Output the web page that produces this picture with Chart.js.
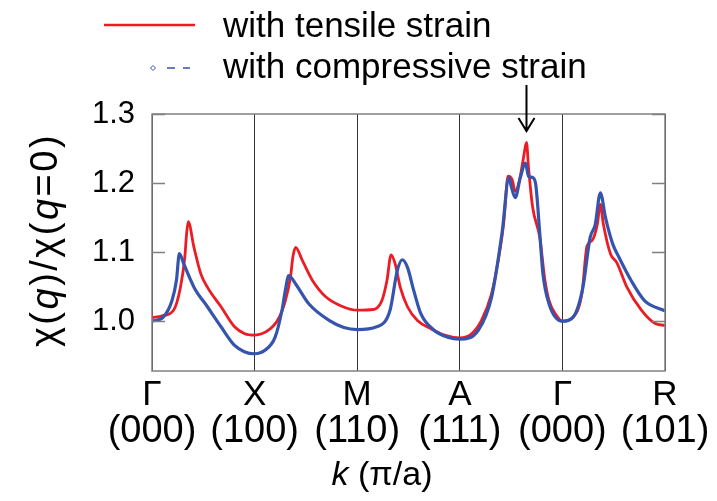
<!DOCTYPE html>
<html>
<head>
<meta charset="utf-8">
<script src="https://cdn.jsdelivr.net/npm/chart.js@4.4.0/dist/chart.umd.min.js"></script>
<style>
  html, body { margin: 0; padding: 0; background: #fff; }
  #wrap { width: 717px; height: 501px; position: relative; }
</style>
</head>
<body>
<div id="wrap"><canvas id="chart" width="717" height="501"></canvas></div>
<script>
// high-symmetry points along the path
const pointNames = ['Γ', 'X', 'M', 'A', 'Γ', 'R'];
const pointIndices = ['(000)', '(100)', '(110)', '(111)', '(000)', '(101)'];
const yTicks = [1.0, 1.1, 1.2, 1.3];

// chi(q)/chi(0), tensile strain
const kTensile = [0, 0.10, 0.21, 0.277, 0.32, 0.337, 0.353, 0.409, 0.475, 0.541, 0.673, 0.805, 0.904, 1.0,
  1.135, 1.234, 1.30, 1.35, 1.373, 1.40, 1.465, 1.564, 1.696, 1.861, 2.0, 2.158, 2.241, 2.29, 2.33, 2.37,
  2.42, 2.49, 2.587, 2.72, 2.85, 3.0, 3.115, 3.21, 3.31, 3.38, 3.43, 3.47, 3.51, 3.54, 3.58, 3.62, 3.65,
  3.67, 3.71, 3.78, 3.83, 3.87, 3.94, 4.0, 4.105, 4.19, 4.24, 4.29, 4.34, 4.37, 4.40, 4.47, 4.53, 4.63,
  4.77, 4.90, 5.0];
const chiTensile = [1.005, 1.008, 1.016, 1.049, 1.093, 1.126, 1.144, 1.107, 1.069, 1.049, 1.021, 0.992, 0.982, 0.980,
  0.987, 1.004, 1.030, 1.064, 1.093, 1.107, 1.088, 1.059, 1.035, 1.021, 1.016, 1.017, 1.030, 1.059, 1.096, 1.083,
  1.049, 1.021, 1.001, 0.989, 0.980, 0.976, 0.982, 1.001, 1.040, 1.093, 1.145, 1.210, 1.205, 1.188, 1.203, 1.236, 1.259,
  1.222, 1.165, 1.121, 1.059, 1.030, 1.009, 1.000, 1.006, 1.040, 1.109, 1.117, 1.140, 1.169, 1.140, 1.097, 1.085, 1.049,
  1.016, 0.997, 0.994];

// chi(q)/chi(0), compressive strain
const kCompressive = [0, 0.11, 0.195, 0.238, 0.267, 0.31, 0.41, 0.54, 0.673, 0.805, 0.90, 1.0, 1.10, 1.20,
  1.267, 1.30, 1.333, 1.40, 1.53, 1.73, 1.87, 2.0, 2.19, 2.32, 2.39, 2.44, 2.49, 2.55, 2.62, 2.75, 2.88, 3.0,
  3.18, 3.31, 3.41, 3.48, 3.50, 3.54, 3.59, 3.64, 3.67, 3.71, 3.74, 3.78, 3.81, 3.87, 4.0, 4.105, 4.20, 4.27,
  4.32, 4.37, 4.42, 4.49, 4.55, 4.67, 4.80, 5.0];
const chiCompressive = [1.000, 1.006, 1.030, 1.059, 1.098, 1.083, 1.049, 1.021, 0.992, 0.965, 0.956, 0.953, 0.958, 0.977,
  1.016, 1.045, 1.066, 1.054, 1.025, 1.001, 0.991, 0.988, 0.992, 1.016, 1.073, 1.089, 1.078, 1.045, 1.011, 0.987, 0.977, 0.974,
  0.987, 1.035, 1.126, 1.208, 1.196, 1.179, 1.208, 1.229, 1.210, 1.208, 1.198, 1.126, 1.069, 1.025, 1.000, 1.006, 1.049, 1.121,
  1.140, 1.186, 1.150, 1.112, 1.093, 1.059, 1.030, 1.015];

const arrowK = 3.65;

const RED = '#ec1c24';
const BLUE = '#3554ad';
const FONT = '"Liberation Sans", Arial, sans-serif';

const toXY = (xs, ys) => xs.map((x, i) => ({ x: x, y: ys[i] }));

// draws text made of normal / italic pieces, centred on (x, y)
function mixedText(ctx, parts, size, x, y) {
  let total = 0;
  parts.forEach(p => {
    ctx.font = (p[1] ? 'italic ' : '') + size + 'px ' + FONT;
    total += ctx.measureText(p[0]).width;
  });
  let cx = x - total / 2;
  parts.forEach(p => {
    ctx.font = (p[1] ? 'italic ' : '') + size + 'px ' + FONT;
    ctx.fillText(p[0], cx, y);
    cx += ctx.measureText(p[0]).width;
  });
}

const decorations = {
  id: 'decorations',
  afterDatasetsDraw(chart) {
    const ctx = chart.ctx;
    const a = chart.chartArea;
    const ys = chart.scales.y;
    const xs = chart.scales.x;
    ctx.save();

    // frame
    ctx.strokeStyle = '#808080';
    ctx.lineWidth = 1.5;
    ctx.strokeRect(a.left, a.top, a.right - a.left, a.bottom - a.top);

    // inward ticks on both sides
    yTicks.forEach(v => {
      const py = Math.round(ys.getPixelForValue(v)) + 0.5;
      ctx.beginPath();
      ctx.moveTo(a.left, py); ctx.lineTo(a.left + 13, py);
      ctx.moveTo(a.right, py); ctx.lineTo(a.right - 13, py);
      ctx.stroke();
    });

    // k-point labels, two lines each
    ctx.fillStyle = '#000';
    ctx.textAlign = 'center';
    ctx.textBaseline = 'alphabetic';
    pointNames.forEach((name, i) => {
      const px = xs.getPixelForValue(i);
      ctx.font = '35px ' + FONT;
      ctx.fillText(name, px, 405);
      ctx.font = '38px ' + FONT;
      ctx.fillText(pointIndices[i], px, 442);
    });

    // arrow above the main peak
    const ax = xs.getPixelForValue(arrowK);
    ctx.strokeStyle = '#000';
    ctx.lineWidth = 2;
    ctx.beginPath();
    ctx.moveTo(ax, 85); ctx.lineTo(ax, 131);
    ctx.moveTo(ax - 8, 118); ctx.lineTo(ax, 131); ctx.lineTo(ax + 8, 118);
    ctx.stroke();

    // axis titles
    ctx.textAlign = 'left';
    ctx.textBaseline = 'middle';
    mixedText(ctx, [['k', true], [' (π/a)', false]], 34, 382, 476);
    ctx.save();
    ctx.translate(47, 240);
    ctx.rotate(-Math.PI / 2);
    ctx.letterSpacing = '2.5px';
    mixedText(ctx, [['χ(', false], ['q', true], [')/χ(', false], ['q', true], ['=0)', false]], 38, 0, 0);
    ctx.restore();

    // legend
    ctx.strokeStyle = RED;
    ctx.lineWidth = 2.5;
    ctx.beginPath();
    ctx.moveTo(104, 25); ctx.lineTo(195, 25);
    ctx.stroke();
    ctx.strokeStyle = BLUE;
    ctx.lineWidth = 1.5;
    ctx.beginPath();
    ctx.moveTo(167, 68); ctx.lineTo(175, 68);
    ctx.moveTo(183, 68); ctx.lineTo(190, 68);
    ctx.stroke();
    ctx.lineWidth = 1;
    ctx.beginPath();
    ctx.moveTo(153, 65.5); ctx.lineTo(155.5, 68); ctx.lineTo(153, 70.5); ctx.lineTo(150.5, 68); ctx.closePath();
    ctx.stroke();

    ctx.font = '35px ' + FONT;
    ctx.textBaseline = 'alphabetic';
    ctx.fillText('with tensile strain', 223, 37);
    ctx.fillText('with compressive strain', 223, 78);
    ctx.restore();
  }
};

new Chart(document.getElementById('chart'), {
  type: 'line',
  data: {
    datasets: [
      {
        label: 'with compressive strain',
        data: toXY(kCompressive, chiCompressive),
        borderColor: BLUE,
        borderWidth: 3.2,
        pointRadius: 0,
        cubicInterpolationMode: 'monotone'
      },
      {
        label: 'with tensile strain',
        data: toXY(kTensile, chiTensile),
        borderColor: RED,
        borderWidth: 2.8,
        pointRadius: 0,
        cubicInterpolationMode: 'monotone'
      }
    ]
  },
  options: {
    responsive: false,
    animation: false,
    events: [],
    layout: { padding: { left: 0, top: 114, right: 52, bottom: 0 } },
    plugins: { legend: { display: false }, tooltip: { enabled: false } },
    scales: {
      x: {
        type: 'linear',
        min: 0, max: 5,
        afterBuildTicks: s => { s.ticks = pointNames.map((_, i) => ({ value: i })); },
        afterFit: s => { s.height = 130; },
        grid: { color: '#333', lineWidth: 1, drawTicks: false },
        border: { display: false },
        ticks: { display: false }
      },
      y: {
        min: 0.928, max: 1.3,
        afterBuildTicks: s => { s.ticks = yTicks.map(v => ({ value: v })); },
        afterFit: s => { s.width = 152; },
        grid: { display: false, drawTicks: false },
        border: { display: false },
        ticks: {
          color: '#000',
          padding: 17,
          font: { family: FONT, size: 31 },
          callback: v => v.toFixed(1)
        }
      }
    }
  },
  plugins: [decorations]
});
</script>
</body>
</html>
